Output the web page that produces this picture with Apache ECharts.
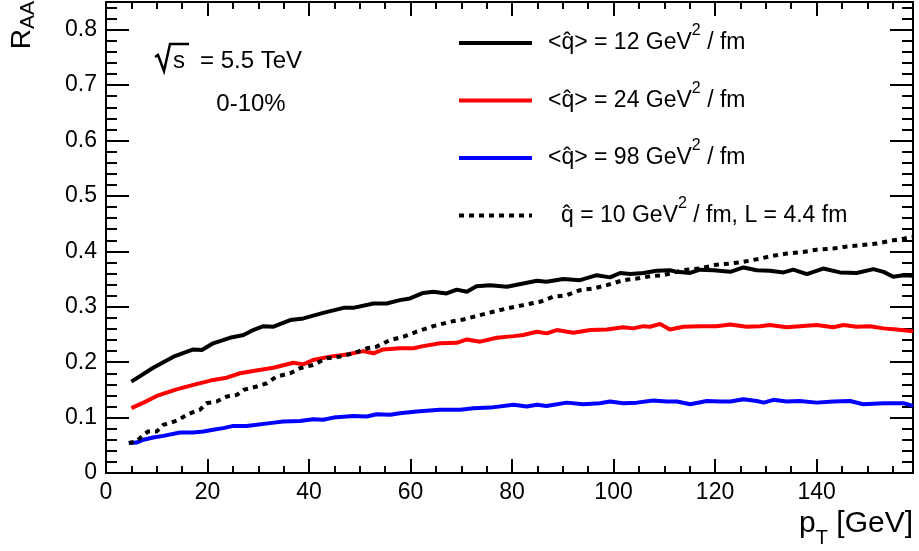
<!DOCTYPE html>
<html>
<head>
<meta charset="utf-8">
<script src="https://cdn.jsdelivr.net/npm/echarts@6/dist/echarts.min.js"></script>
<style>
  html, body { margin: 0; padding: 0; background: #fff; }
  #chart { width: 919px; height: 551px; }
</style>
</head>
<body>
<div id="chart"></div>
<script>
// <q^> = 12 GeV^2/fm (black)
const ptBlack = [5, 9.3, 13.3, 17.2, 18.9, 21.1, 24.4, 27.1, 29, 31, 33, 36.3, 38.9, 42.8, 46.8, 48.7, 52.7, 55.3, 57.9, 59.9,
    62.5, 64.5, 67.1, 69.1, 71.1, 73, 75.7, 79, 82.2, 84.9, 86.8, 90.1, 93.4, 96.7, 99.3, 101.3, 103.3, 105.9, 108.5, 111.1,
    112.5, 115.1, 117, 119.7, 123, 125.6, 128.2, 130.8, 133.5, 135.4, 138.1, 141.3, 144.6, 147.9, 151.2, 153.2, 155.1, 157.1, 159];
const rBlack = [0.165, 0.190, 0.210, 0.223, 0.222, 0.234, 0.244, 0.249, 0.258, 0.265, 0.264, 0.276, 0.279, 0.289, 0.298, 0.298, 0.306, 0.306, 0.312, 0.315,
    0.325, 0.327, 0.324, 0.331, 0.327, 0.337, 0.339, 0.336, 0.342, 0.347, 0.345, 0.350, 0.348, 0.357, 0.353, 0.361, 0.359, 0.361, 0.365, 0.366,
    0.363, 0.361, 0.367, 0.366, 0.363, 0.371, 0.366, 0.365, 0.362, 0.367, 0.359, 0.369, 0.362, 0.361, 0.368, 0.363, 0.354, 0.357, 0.356];

// <q^> = 24 GeV^2/fm (red)
const ptRed = [5, 7.4, 10, 13.9, 17.2, 19.8, 21.1, 23.8, 26.4, 29, 33, 36.9, 38.9, 40.8, 44.1, 47.4, 50.7, 52.7, 54.6, 57.9,
    60.6, 62.5, 65.8, 69.1, 71.1, 73.7, 77, 80.3, 82.2, 84.9, 86.8, 88.8, 92.1, 95.4, 98.7, 101.9, 103.9, 105.9, 107.2, 109.2,
    111.1, 113.8, 117, 120.3, 123, 126.2, 128.9, 130.8, 134.1, 136.7, 140, 143.3, 145.3, 147.9, 150.5, 153.2, 155.8, 159];
const rRed = [0.117, 0.127, 0.139, 0.151, 0.159, 0.165, 0.168, 0.172, 0.180, 0.184, 0.190, 0.199, 0.196, 0.204, 0.210, 0.214, 0.220, 0.216, 0.223, 0.225,
    0.225, 0.229, 0.234, 0.235, 0.241, 0.237, 0.244, 0.247, 0.249, 0.255, 0.252, 0.258, 0.253, 0.258, 0.259, 0.263, 0.261, 0.265, 0.264, 0.269,
    0.259, 0.264, 0.265, 0.265, 0.268, 0.264, 0.265, 0.267, 0.263, 0.265, 0.267, 0.263, 0.267, 0.264, 0.265, 0.261, 0.259, 0.256];

// <q^> = 98 GeV^2/fm (blue)
const ptBlue = [4.5, 6, 7.4, 9.3, 11.3, 14.6, 17.2, 19.2, 21.1, 23.1, 25.1, 27.7, 29.7, 32.3, 34.9, 38.2, 40.8, 42.8, 44.8, 48.7,
    51.4, 53.3, 56, 57.9, 61.2, 65.8, 69.8, 72.4, 75.7, 80.3, 82.9, 84.9, 86.8, 90.8, 94, 97.3, 99.3, 101.9, 104.6, 107.8,
    110.5, 112.5, 115.1, 118.4, 121, 123, 125.6, 128.2, 129.6, 131.5, 134.1, 136.7, 140, 143.3, 146.6, 149.2, 153.2, 157.1, 159];
const rBlue = [0.054, 0.055, 0.060, 0.064, 0.067, 0.073, 0.073, 0.075, 0.078, 0.081, 0.085, 0.085, 0.087, 0.090, 0.093, 0.094, 0.097, 0.096, 0.100, 0.103,
    0.102, 0.106, 0.105, 0.108, 0.111, 0.114, 0.114, 0.117, 0.118, 0.123, 0.120, 0.123, 0.121, 0.127, 0.124, 0.126, 0.129, 0.126, 0.127, 0.131,
    0.129, 0.129, 0.124, 0.130, 0.129, 0.129, 0.133, 0.130, 0.127, 0.132, 0.129, 0.130, 0.127, 0.129, 0.130, 0.124, 0.126, 0.126, 0.121];

// q^ = 10 GeV^2/fm, L = 4.4 fm (dotted histogram)
const ptHist = [4.5, 6, 7.4, 8.3, 10, 11.3, 12.6, 14.3, 15.9, 17.5, 18.5, 19.8, 21.8, 23.8, 25.8, 27.1, 29.7, 31.7, 33.6, 36.3,
    38.2, 40.8, 43.5, 46.1, 48.7, 51.4, 53.3, 56, 58.6, 61.2, 64.5, 67.8, 70.4, 73.7, 76.3, 79, 82.2, 85.5, 88.1, 90.8,
    93.4, 96, 98.7, 101.9, 104.6, 107.2, 109.8, 111.1, 113.8, 117, 120.3, 123, 125.6, 128.9, 130.8, 134.1, 137.4, 140, 143.3, 145.3,
    148.6, 151.9, 154.5, 157.1, 159];
const rHist = [0.054, 0.057, 0.069, 0.075, 0.075, 0.087, 0.090, 0.096, 0.105, 0.111, 0.114, 0.126, 0.129, 0.138, 0.141, 0.150, 0.156, 0.162, 0.174, 0.180,
    0.189, 0.195, 0.207, 0.210, 0.216, 0.225, 0.228, 0.240, 0.246, 0.255, 0.265, 0.273, 0.277, 0.285, 0.291, 0.297, 0.303, 0.309, 0.318, 0.321,
    0.330, 0.333, 0.339, 0.348, 0.351, 0.355, 0.357, 0.360, 0.366, 0.369, 0.376, 0.378, 0.381, 0.387, 0.391, 0.396, 0.399, 0.403, 0.405, 0.408,
    0.411, 0.414, 0.419, 0.423, 0.426];

const seriesNames = ["q12", "q24", "q98", "qL"];
const legendLabels = {
    q12: "{a|<q\u0302> = 12 GeV}{s|2}{b| / fm}",
    q24: "{a|<q\u0302> = 24 GeV}{s|2}{b| / fm}",
    q98: "{a|<q\u0302> = 98 GeV}{s|2}{b| / fm}",
    qL: "{c|q\u0302 = 10 GeV}{s|2}{b| / fm, L = 4.4 fm}"
};

const FONT = "Liberation Sans";
const X_MAX = 159, Y_MAX = 0.85;

function zip(xs, ys) {
    return xs.map((x, i) => [x, ys[i]]);
}

function xAxis(position, withLabel) {
    return {
        type: "value", position: position, min: 0, max: X_MAX, interval: 20,
        axisLine: { show: true, onZero: false, lineStyle: { color: "#000", width: 2 } },
        axisTick: { show: true, inside: true, length: 14, lineStyle: { color: "#000", width: 2 } },
        minorTick: { show: true, splitNumber: 4, length: 7, lineStyle: { color: "#000", width: 2 } },
        axisLabel: {
            show: withLabel, margin: 8, color: "#000", fontFamily: FONT, fontSize: 23,
            showMaxLabel: false,
            formatter: v => (v % 20 === 0 ? String(v) : "")
        },
        splitLine: { show: false }
    };
}

function yAxis(position, withLabel) {
    return {
        type: "value", position: position, min: 0, max: Y_MAX, interval: 0.1,
        axisLine: { show: true, onZero: false, lineStyle: { color: "#000", width: 2 } },
        axisTick: { show: true, inside: true, length: 23, lineStyle: { color: "#000", width: 2 } },
        minorTick: { show: true, splitNumber: 5, length: 11, lineStyle: { color: "#000", width: 2 } },
        axisLabel: {
            show: withLabel, margin: 9, color: "#000", fontFamily: FONT, fontSize: 23,
            showMaxLabel: false,
            formatter: v => (Math.abs(v * 10 - Math.round(v * 10)) < 1e-6 && v < 0.81 ? String(+v.toFixed(1)) : "")
        },
        splitLine: { show: false }
    };
}

function lineSeries(name, xs, ys, color, type, width) {
    return {
        name: name, type: "line", xAxisIndex: 0, yAxisIndex: 0,
        data: zip(xs, ys), symbol: "none", showSymbol: false,
        lineStyle: { color: color, width: width, type: type },
        itemStyle: { color: color }
    };
}

let chart = echarts.init(document.getElementById("chart"));
chart.setOption({
    animation: false,
    backgroundColor: "#fff",
    grid: { left: 106, right: 6, top: 2, bottom: 78, containLabel: false },
    xAxis: [xAxis("bottom", true), xAxis("top", false)],
    yAxis: [yAxis("left", true), yAxis("right", false)],
    legend: {
        data: seriesNames.map(n => ({ name: n, itemStyle: { opacity: 0 } })),
        orient: "vertical",
        left: 457, top: 23, padding: 0,
        itemWidth: 73, itemHeight: 14, itemGap: 26,
        selectedMode: false,
        lineStyle: { width: "inherit", type: "inherit" },
        formatter: name => legendLabels[name],
        textStyle: {
            color: "#000", fontFamily: FONT, fontSize: 23,
            rich: {
                a: { fontFamily: FONT, fontSize: 23, lineHeight: 40, color: "#000", padding: [0, 0, 0, 11] },
                c: { fontFamily: FONT, fontSize: 23, lineHeight: 40, color: "#000", padding: [0, 0, 0, 24] },
                b: { fontFamily: FONT, fontSize: 23, lineHeight: 40, color: "#000" },
                s: { fontFamily: FONT, fontSize: 16, lineHeight: 16, color: "#000", verticalAlign: "top" }
            }
        }
    },
    graphic: [
        {   // R_AA axis title
            type: "text", x: 5, y: 1, rotation: Math.PI / 2,
            style: {
                text: "{r|R}{s|AA}", align: "right", verticalAlign: "top",
                rich: {
                    r: { fontFamily: FONT, fontSize: 28, lineHeight: 34, color: "#000" },
                    s: { fontFamily: FONT, fontSize: 21, lineHeight: 16, color: "#000", verticalAlign: "bottom" }
                }
            }
        },
        {   // pT axis title
            type: "text", x: 913, y: 524,
            style: {
                text: "{p|p}{s|T}{p| [GeV]}", align: "right", verticalAlign: "middle",
                rich: {
                    p: { fontFamily: FONT, fontSize: 30, lineHeight: 48, color: "#000" },
                    s: { fontFamily: FONT, fontSize: 20, lineHeight: 18, color: "#000", verticalAlign: "bottom" }
                }
            }
        },
        {   // sqrt sign
            type: "polyline",
            shape: { points: [[155, 57], [158, 55], [164, 71], [170, 44], [189, 44]] },
            style: { stroke: "#000", lineWidth: 2.5, fill: null }
        },
        {
            type: "text", x: 173, y: 61,
            style: { text: "s", fontFamily: FONT, fontSize: 24, fill: "#000", align: "left", verticalAlign: "middle" }
        },
        {
            type: "text", x: 200, y: 61,
            style: { text: "= 5.5 TeV", fontFamily: FONT, fontSize: 24, fill: "#000", align: "left", verticalAlign: "middle" }
        },
        {
            type: "text", x: 251, y: 104,
            style: { text: "0-10%", fontFamily: FONT, fontSize: 24, fill: "#000", align: "center", verticalAlign: "middle" }
        }
    ],
    series: [
        lineSeries("q12", ptBlack, rBlack, "#000000", "solid", 4),
        lineSeries("q24", ptRed, rRed, "#ff0000", "solid", 4),
        lineSeries("q98", ptBlue, rBlue, "#0000ff", "solid", 4),
        lineSeries("qL", ptHist, rHist, "#000000", [5, 5], 4)
    ]
});
</script>
</body>
</html>
